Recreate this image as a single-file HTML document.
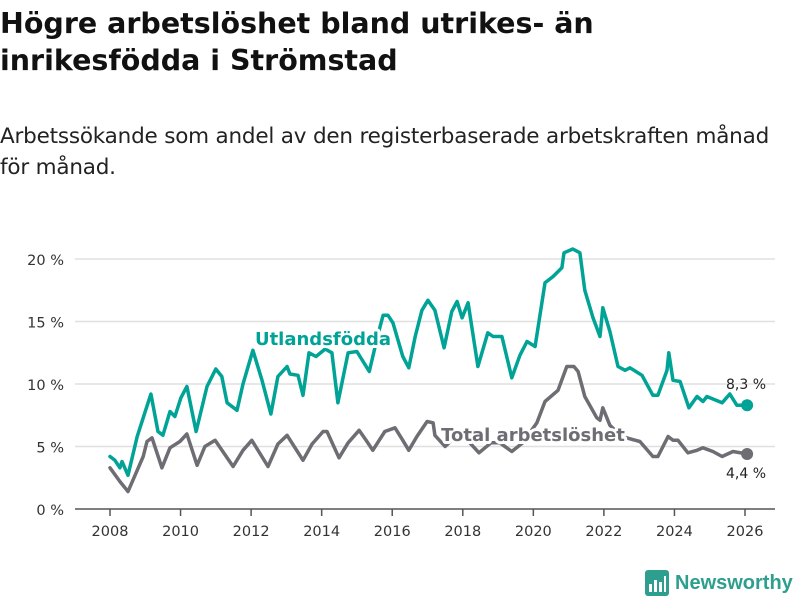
<!DOCTYPE html>
<html><head><meta charset="utf-8"><style>
body{margin:0;width:800px;height:600px;background:#fff;font-family:"DejaVu Sans",sans-serif;overflow:hidden;position:relative}
h1{position:absolute;left:0;top:5px;margin:0;font-size:28.5px;line-height:37px;font-weight:bold;color:#111}
p{position:absolute;left:0;top:121px;margin:0;font-size:21.5px;line-height:31px;color:#222;letter-spacing:-0.2px}
svg{position:absolute;left:0;top:0}
</style></head><body>
<h1>Högre arbetslöshet bland utrikes- än<br>inrikesfödda i Strömstad</h1>
<p>Arbetssökande som andel av den registerbaserade arbetskraften månad<br>för månad.</p>
<svg id="chart" width="800" height="600"></svg>
<script>
const yTicks=[0,5,10,15,20];
const xTicks=[2008,2010,2012,2014,2016,2018,2020,2022,2024,2026];
const utlDates=[2008.0,2008.14,2008.28,2008.34,2008.51,2008.77,2008.94,2009.16,2009.36,2009.5,2009.7,2009.84,2010.01,2010.18,2010.44,2010.75,2011.0,2011.17,2011.32,2011.6,2011.77,2012.05,2012.31,2012.56,2012.76,2013.02,2013.1,2013.33,2013.47,2013.64,2013.84,2014.1,2014.29,2014.46,2014.75,2015.0,2015.35,2015.6,2015.74,2015.88,2016.02,2016.3,2016.47,2016.65,2016.84,2017.01,2017.21,2017.47,2017.69,2017.84,2017.98,2018.15,2018.43,2018.71,2018.86,2019.11,2019.39,2019.62,2019.82,2020.05,2020.33,2020.56,2020.81,2020.87,2021.12,2021.32,2021.46,2021.69,2021.89,2021.97,2022.17,2022.4,2022.6,2022.74,2023.08,2023.39,2023.53,2023.79,2023.84,2023.96,2024.16,2024.41,2024.64,2024.81,2024.92,2025.35,2025.57,2025.77,2026.06];
const utlValues=[4.2,3.9,3.3,3.8,2.7,5.8,7.3,9.2,6.2,5.9,7.8,7.4,8.9,9.8,6.2,9.8,11.2,10.6,8.5,7.9,10.0,12.7,10.3,7.6,10.6,11.4,10.8,10.7,9.1,12.5,12.2,12.8,12.5,8.5,12.5,12.6,11.0,14.0,15.5,15.5,14.9,12.2,11.3,13.8,15.9,16.7,15.9,12.9,15.8,16.6,15.3,16.5,11.4,14.1,13.8,13.8,10.5,12.3,13.4,13.0,18.1,18.6,19.3,20.5,20.8,20.5,17.5,15.3,13.8,16.1,14.2,11.4,11.1,11.3,10.7,9.1,9.1,11.1,12.5,10.3,10.2,8.1,9.0,8.6,9.0,8.5,9.2,8.3,8.3];
const totDates=[2008.0,2008.28,2008.51,2008.77,2008.94,2009.05,2009.19,2009.47,2009.7,2009.98,2010.18,2010.47,2010.69,2010.98,2011.49,2011.77,2012.02,2012.48,2012.76,2013.02,2013.47,2013.73,2014.04,2014.15,2014.49,2014.75,2015.06,2015.26,2015.45,2015.79,2016.08,2016.3,2016.47,2016.7,2016.99,2017.16,2017.21,2017.5,2017.8,2018.1,2018.46,2018.8,2019.05,2019.39,2019.7,2020.1,2020.33,2020.7,2020.95,2021.15,2021.27,2021.46,2021.8,2021.89,2021.97,2022.17,2022.5,2023.02,2023.39,2023.53,2023.82,2023.96,2024.1,2024.38,2024.64,2024.81,2025.09,2025.35,2025.66,2026.06];
const totValues=[3.3,2.2,1.4,3.1,4.2,5.4,5.7,3.3,4.9,5.4,6.0,3.5,5.0,5.5,3.4,4.7,5.5,3.4,5.2,5.9,3.9,5.2,6.2,6.2,4.1,5.3,6.3,5.5,4.7,6.2,6.5,5.5,4.7,5.8,7.0,6.9,5.9,5.0,5.8,5.6,4.5,5.3,5.3,4.6,5.3,6.9,8.6,9.5,11.4,11.4,11.0,9.0,7.3,7.1,8.1,6.7,5.8,5.4,4.2,4.2,5.8,5.5,5.5,4.5,4.7,4.9,4.6,4.2,4.6,4.4];
const NS="http://www.w3.org/2000/svg";
const svg=document.getElementById('chart');
const X=d=>110+(d-2008)*(635/18);
const Y=v=>509-v*12.5;
function mk(t,a,p){const e=document.createElementNS(NS,t);for(const k in a)e.setAttribute(k,a[k]);(p||svg).appendChild(e);return e;}
yTicks.forEach(v=>{
  if(v>0){const g=mk('line',{x1:75,x2:775,y1:Y(v),y2:Y(v),stroke:'#e0e0e0','stroke-width':1.5});
  
  }
  const t=mk('text',{x:64,y:Y(v)+6,'text-anchor':'end','font-size':14.5,fill:'#333'});
  t.textContent=v+' %';
  
  
});
const ax=mk('line',{x1:75,x2:775,y1:509,y2:509,stroke:'#555','stroke-width':1.5});


xTicks.forEach(d=>{
  mk('line',{x1:X(d),x2:X(d),y1:509,y2:516,stroke:'#555','stroke-width':1.5});
  const t=mk('text',{x:X(d),y:536,'text-anchor':'middle','font-size':14.5,fill:'#333'});
  t.textContent=d;
  
  
});
function line(ds,vs,col,name){
  const p=mk('path',{d:ds.map((d,i)=>(i?'L':'M')+X(d).toFixed(1)+','+Y(vs[i]).toFixed(1)).join(''),fill:'none',stroke:col,'stroke-width':3.5,'stroke-linejoin':'round','stroke-linecap':'round'});
  
  
  const c=mk('circle',{cx:X(ds[ds.length-1]),cy:Y(vs[vs.length-1]),r:6,fill:col});
  
  
}
line(totDates,totValues,'#6d6d73','total');
line(utlDates,utlValues,'#00a396','utlandsfodda');
function lbl(x,y,txt,col,name,size,bold,anchor,halo){
  const t=mk('text',{x:x,y:y,'font-size':size,'font-weight':bold?'bold':'normal',fill:col,'text-anchor':anchor||'start'});
  if(halo){t.setAttribute('stroke','#fff');t.setAttribute('stroke-width',6);t.setAttribute('paint-order','stroke');t.setAttribute('stroke-linejoin','round');}
  t.textContent=txt;
  
  
}
lbl(323,345,'Utlandsfödda','#00a396','utlandsfodda-label',18,true,'middle',true);
lbl(533,441,'Total arbetslöshet','#6d6d73','total-label',18,true,'middle',true);
lbl(746,389,'8,3 %','#222','utlandsfodda-end-value',14,false,'middle');
lbl(746,478,'4,4 %','#222','total-end-value',14,false,'middle');
</script>
<div style="position:absolute;left:645px;top:570px;display:flex;align-items:center">
<svg width="24" height="26" style="position:static"><rect x="0" y="0" width="24" height="26" rx="3" fill="#2e9e8f"/><rect x="4" y="14" width="3" height="8" fill="#fff"/><rect x="9" y="10" width="3" height="12" fill="#fff"/><rect x="14" y="12" width="3" height="10" fill="#fff"/><rect x="19" y="6" width="2" height="16" fill="#fff"/></svg>
<span style="margin-left:6px;font-family:'Liberation Sans',sans-serif;font-size:20px;font-weight:bold;color:#2e9e8f">Newsworthy</span></div>
</body></html>
